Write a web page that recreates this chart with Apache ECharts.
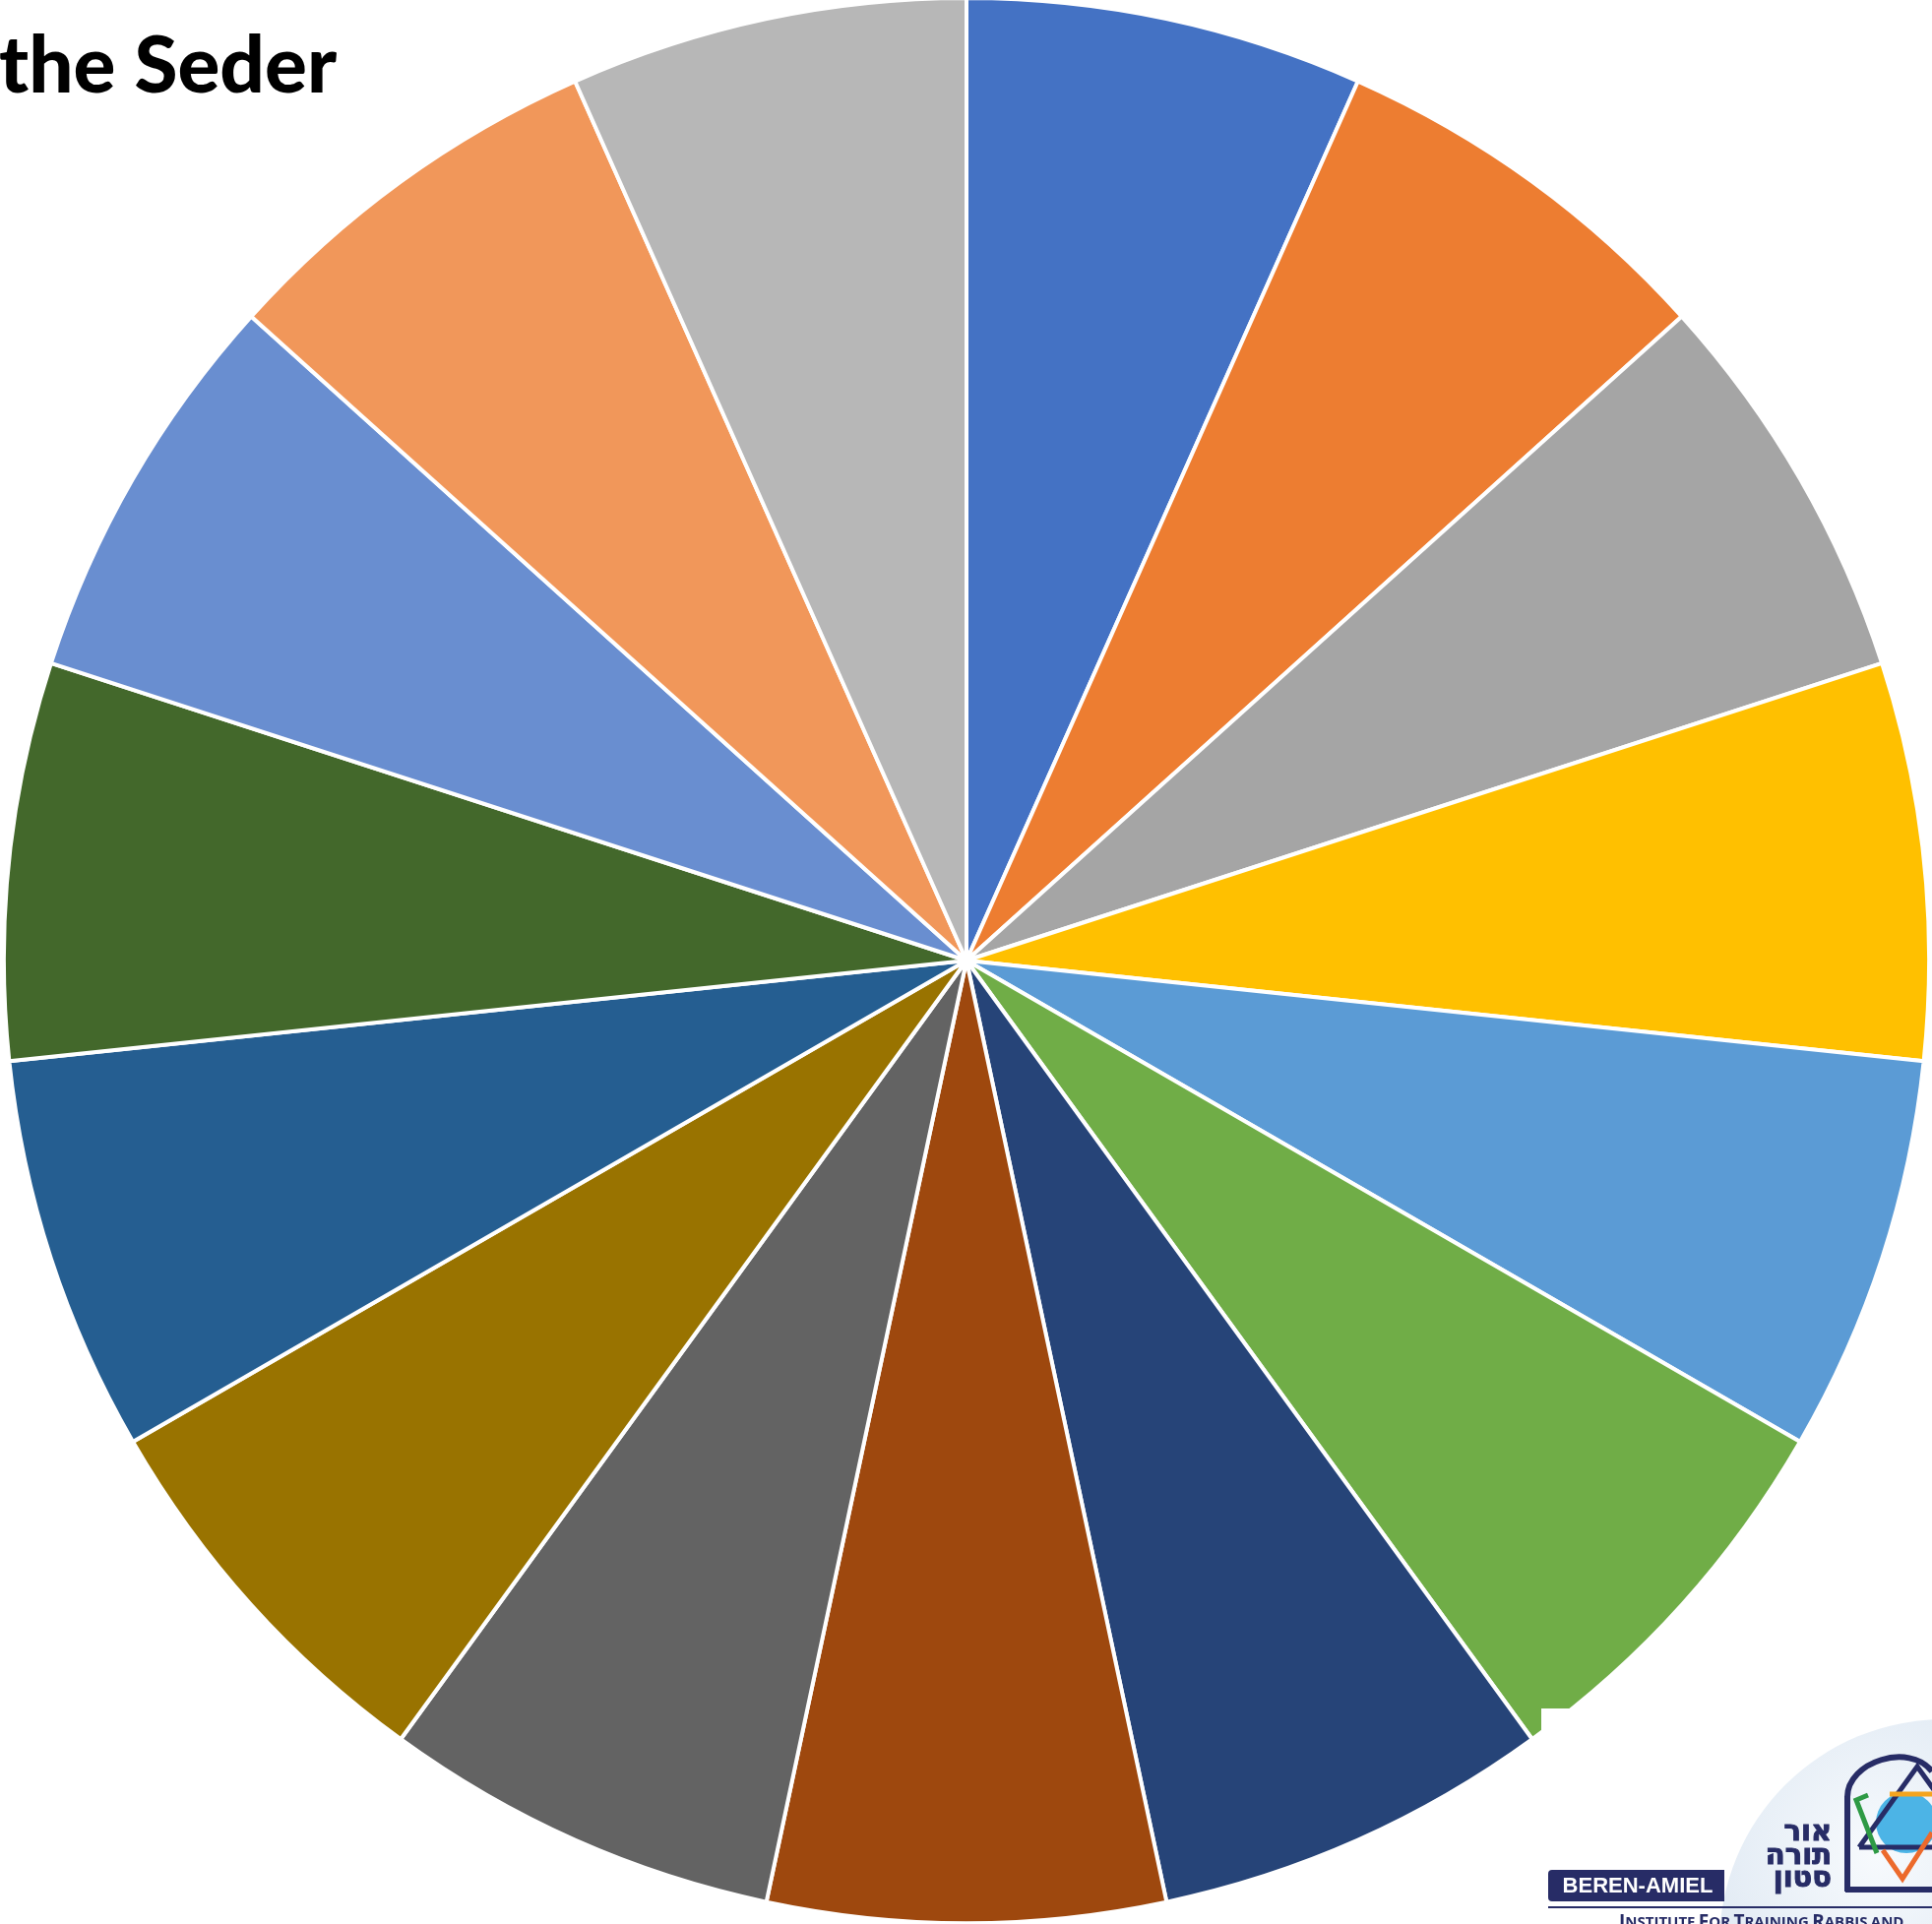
<!DOCTYPE html>
<html>
<head>
<meta charset="utf-8">
<title>The Order of the Seder</title>
<script src="https://cdn.jsdelivr.net/npm/echarts@6/dist/echarts.min.js"></script>
<style>
  html, body { margin: 0; padding: 0; background: #fff; }
  #main { width: 1963px; height: 1955px; }
</style>
</head>
<body>
<div id="main"></div>
<script>
// the 15 steps of the seder, all equal slices
const steps = ['Kadesh', 'Urchatz', 'Karpas', 'Yachatz', 'Maggid', 'Rachtzah', 'Motzi',
  'Matzah', 'Maror', 'Korech', 'Shulchan Orech', 'Tzafun', 'Barech', 'Hallel', 'Nirtzah']
const stepValues = [1, 1, 1, 1, 1, 1, 1, 1, 1, 1, 1, 1, 1, 1, 1]
const palette = ['#4472C4', '#ED7D31', '#A5A5A5', '#FFC000', '#5B9BD5', '#70AD47', '#264478',
  '#9E480E', '#636363', '#997300', '#255E91', '#43682B', '#698ED0', '#F1975A', '#B7B7B7']

const navy = '#272c66'

const chart = echarts.init(document.getElementById('main'))

const option = {
  animation: false,
  color: palette,
  title: {
    text: 'the Seder',
    left: -1,
    top: 28,
    padding: 0,
    textStyle: {
      fontFamily: 'Lato',
      fontWeight: 900,
      fontSize: 80,
      color: '#000'
    }
  },
  series: [
    {
      name: 'Seder',
      type: 'pie',
      center: [982, 976],
      radius: [0, 978],
      startAngle: 90,
      clockwise: true,
      label: { show: false },
      labelLine: { show: false },
      itemStyle: { borderColor: '#fff', borderWidth: 4 },
      emphasis: { disabled: true },
      data: steps.map((name, i) => ({ name: name, value: stepValues[i] }))
    }
  ],
  graphic: [
    // logo block in the bottom-right corner
    { type: 'rect', z: 100, shape: { x: 1566, y: 1736, width: 400, height: 222 }, style: { fill: '#fff' } },
    {
      type: 'circle', z: 101, shape: { cx: 1975, cy: 1975, r: 228 },
      style: {
        fill: new echarts.graphic.RadialGradient(0.35, 0.3, 0.9, [
          { offset: 0, color: '#f7fafd' },
          { offset: 1, color: '#c5d6e8' }
        ])
      }
    },
    { type: 'circle', z: 102, shape: { cx: 1937, cy: 1852, r: 31 }, style: { fill: '#4cb4e6' } },
    { type: 'line', z: 103, shape: { x1: 1877, y1: 1922, x2: 1877, y2: 1825 }, style: { stroke: navy, lineWidth: 6 } },
    {
      type: 'bezierCurve', z: 103,
      shape: { x1: 1877, y1: 1826, cpx1: 1877, cpy1: 1790, cpx2: 1940, cpy2: 1770, x2: 1963, y2: 1800 },
      style: { fill: null, stroke: navy, lineWidth: 6 }
    },
    { type: 'line', z: 103, shape: { x1: 1875, y1: 1920, x2: 1963, y2: 1920 }, style: { stroke: navy, lineWidth: 6 } },
    {
      type: 'polyline', z: 104,
      shape: { points: [[1889, 1877], [1948, 1795], [2007, 1877], [1889, 1877]] },
      style: { stroke: navy, lineWidth: 5, fill: null }
    },
    { type: 'line', z: 104, shape: { x1: 1920, y1: 1823, x2: 1963, y2: 1823 }, style: { stroke: '#f4a41f', lineWidth: 5 } },
    { type: 'polyline', z: 104, shape: { points: [[1898, 1824], [1886, 1829], [1907, 1883]] }, style: { stroke: '#2e9a45', lineWidth: 5, fill: null } },
    { type: 'polyline', z: 104, shape: { points: [[1913, 1880], [1933, 1909], [1963, 1862]] }, style: { stroke: '#ec6a2c', lineWidth: 5, fill: null } },
    {
      type: 'text', z: 105, x: 1861, y: 1851,
      style: {
        text: 'אור\nתורה\nסטון', align: 'right', verticalAlign: 'top',
        font: 'bold 29px "DejaVu Sans"', lineHeight: 23.5, fill: navy,
        stroke: navy, lineWidth: 1
      }
    },
    { type: 'rect', z: 105, shape: { x: 1573, y: 1900, width: 179, height: 32, r: [4, 0, 0, 4] }, style: { fill: navy } },
    {
      type: 'text', z: 106, x: 1664, y: 1917,
      style: { text: 'BEREN-AMIEL', align: 'center', verticalAlign: 'middle', font: 'bold 22px "Liberation Sans"', fill: '#fff' }
    },
    { type: 'line', z: 105, shape: { x1: 1573, y1: 1938, x2: 1963, y2: 1938 }, style: { stroke: navy, lineWidth: 2 } },
    {
      type: 'text', z: 106, x: 1645, y: 1944,
      style: {
        text: '{b|I}{s|NSTITUTE} {b|F}{s|OR} {b|T}{s|RAINING} {b|R}{s|ABBIS} {s|AND}',
        verticalAlign: 'top',
        rich: {
          b: { font: 'bold 19px "Open Sans"', fill: navy },
          s: { font: 'bold 15px "Open Sans"', fill: navy }
        }
      }
    }
  ]
}

chart.setOption(option)
</script>
</body>
</html>
